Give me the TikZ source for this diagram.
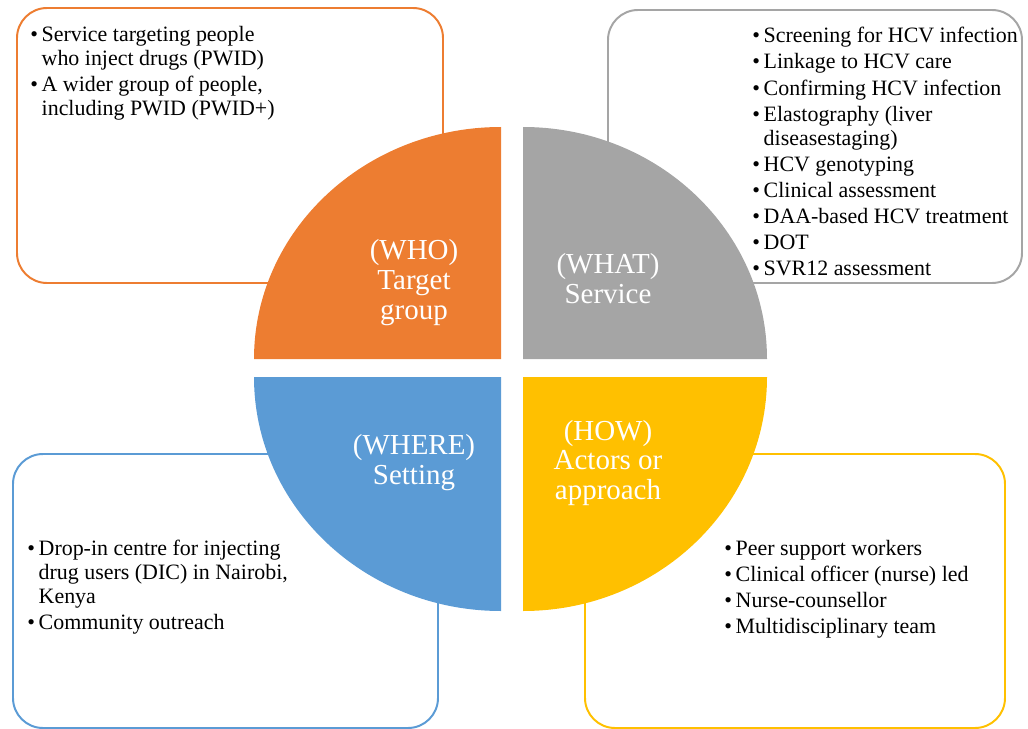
\documentclass[tikz,border=0pt]{standalone}
\usepackage{fontspec}
\setmainfont{Liberation Serif}
\usepackage{tikz}
\usetikzlibrary{positioning}

\definecolor{whoorange}{HTML}{ED7D31}
\definecolor{whatgrey}{HTML}{A5A5A5}
\definecolor{whereblue}{HTML}{5B9BD5}
\definecolor{howyellow}{HTML}{FFC000}

% bullet and hanging indent for the lists
\newcommand{\bul}{\makebox[0.52em][l]{\textbullet}}
\newcommand{\hang}{\hspace*{0.52em}}

\begin{document}
\begin{tikzpicture}[x=0.025cm,y=-0.025cm,
	listbox/.style={
	rounded corners=0.75cm,
	line width=1.4pt
	},heading/.style={
	align=center,
	text=white,
	inner sep=0pt,
	font=\fontsize{20.6}{21.3}\selectfont
	},bullets/.style={
	align=left,
	anchor=north west,
	inner sep=0pt,
	font=\fontsize{15.6}{17}\selectfont
	}
]
\useasboundingbox (0,0) rectangle (1028,729);

% the four list boxes
\draw[listbox,draw=whoorange]	(17,8) rectangle (443,283);
\draw[listbox,draw=whatgrey]	(608,10) rectangle (1022,283);
\draw[listbox,draw=whereblue]	(13,454) rectangle (438,728);
\draw[listbox,draw=howyellow]	(585,454) rectangle (1005,728);

% the quarters of the disc
\fill[whoorange] (501,359) -- ++(-247,0)
	arc[start angle=180,end angle=270,x radius=247,y radius=232] -- cycle;
\fill[whatgrey] (523,359) -- ++(0,-232)
	arc[start angle=270,end angle=360,x radius=244,y radius=232] -- cycle;
\fill[whereblue] (501,377) -- ++(-247,0)
	arc[start angle=180,end angle=90,x radius=247,y radius=234] -- cycle;
\fill[howyellow] (523,377) -- ++(244,0)
	arc[start angle=0,end angle=90,x radius=244,y radius=234] -- cycle;

% headings
\node (who) [heading] at (414,283) {(WHO)\\Target\\group};
\node (what) [heading] at (608,279) {(WHAT)\\Service};
\node (where) [heading] at (414,463) {(WHERE)\\Setting};
\node (how) [heading] at (608,463) {(HOW)\\Actors or\\approach};

% lists
\node (wholist) [bullets] at (30,26) {%
	\bul Service targeting people\\
	\hang who inject drugs (PWID)\\[1.6pt]
	\bul A wider group of people,\\
	\hang including PWID (PWID+)};
\node (whatlist) [bullets] at (752,27) {%
	\bul Screening for HCV infection\\[1.6pt]
	\bul Linkage to HCV care\\[1.6pt]
	\bul Confirming HCV infection\\[1.6pt]
	\bul Elastography (liver\\
	\hang diseasestaging)\\[1.6pt]
	\bul HCV genotyping\\[1.6pt]
	\bul Clinical assessment\\[1.6pt]
	\bul DAA-based HCV treatment\\[1.6pt]
	\bul DOT\\[1.6pt]
	\bul SVR12 assessment};
\node (wherelist) [bullets] at (27,540) {%
	\bul Drop-in centre for injecting\\
	\hang drug users (DIC) in Nairobi,\\
	\hang Kenya\\[1.6pt]
	\bul Community outreach};
\node (howlist) [bullets] at (724,540) {%
	\bul Peer support workers\\[1.6pt]
	\bul Clinical officer (nurse) led\\[1.6pt]
	\bul Nurse-counsellor\\[1.6pt]
	\bul Multidisciplinary team};

\end{tikzpicture}
\end{document}
